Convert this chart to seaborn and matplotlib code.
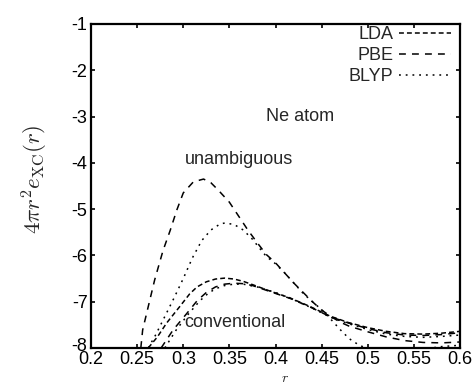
import numpy as np
import pandas as pd
import matplotlib
matplotlib.use("Agg")
import matplotlib.pyplot as plt
import matplotlib.transforms as mtransforms
from matplotlib.lines import Line2D
import seaborn as sns

# data
lda_x = [0.262, 0.272, 0.282, 0.296, 0.307, 0.315, 0.325, 0.335, 0.345, 0.355, 0.365, 0.375,
         0.394, 0.416, 0.437, 0.459, 0.479, 0.50, 0.52, 0.54, 0.56, 0.58, 0.60]
lda_y = [-8.0, -7.76, -7.46, -7.11, -6.83, -6.68, -6.57, -6.51, -6.49, -6.51, -6.56, -6.63,
         -6.77, -6.92, -7.10, -7.31, -7.45, -7.56, -7.64, -7.69, -7.70, -7.68, -7.64]

pbe_conv_x = [0.276, 0.289, 0.304, 0.315, 0.325, 0.335, 0.345, 0.355, 0.365, 0.375, 0.394,
              0.416, 0.437, 0.459, 0.479, 0.50, 0.52, 0.54, 0.56, 0.58, 0.60]
pbe_conv_y = [-8.0, -7.61, -7.25, -6.98, -6.80, -6.68, -6.62, -6.60, -6.61, -6.65, -6.78,
              -6.93, -7.11, -7.32, -7.46, -7.58, -7.67, -7.72, -7.73, -7.71, -7.67]

blyp_conv_x = [0.280, 0.292, 0.305, 0.318, 0.327, 0.335, 0.345, 0.355, 0.365, 0.380, 0.40,
               0.42, 0.44, 0.46, 0.48, 0.50, 0.52, 0.54, 0.56, 0.58, 0.60]
blyp_conv_y = [-8.0, -7.62, -7.28, -6.98, -6.82, -6.72, -6.65, -6.62, -6.62, -6.68, -6.80,
               -6.96, -7.14, -7.34, -7.48, -7.60, -7.70, -7.75, -7.77, -7.75, -7.72]

pbe_unamb_x = [0.254, 0.256, 0.262, 0.269, 0.278, 0.286, 0.293, 0.300, 0.311, 0.322, 0.330,
               0.338, 0.35, 0.36, 0.37, 0.38, 0.39, 0.40, 0.41, 0.42, 0.43, 0.44, 0.45,
               0.46, 0.47, 0.48, 0.50, 0.52, 0.54, 0.56, 0.58, 0.60]
pbe_unamb_y = [-8.0, -7.61, -7.11, -6.53, -5.90, -5.45, -5.02, -4.65, -4.41, -4.35, -4.43,
               -4.59, -4.85, -5.15, -5.45, -5.72, -5.98, -6.16, -6.38, -6.60, -6.80, -7.00,
               -7.18, -7.32, -7.44, -7.53, -7.65, -7.76, -7.84, -7.88, -7.89, -7.87]

blyp_unamb_x = [0.262, 0.27, 0.28, 0.29, 0.30, 0.31, 0.32, 0.33, 0.34, 0.345, 0.355, 0.365,
                0.375, 0.385, 0.39, 0.40, 0.41, 0.42, 0.43, 0.44, 0.45, 0.46, 0.47, 0.48,
                0.49, 0.50, 0.52, 0.55, 0.58, 0.60]
blyp_unamb_y = [-8.0, -7.72, -7.32, -6.92, -6.50, -6.05, -5.68, -5.45, -5.32, -5.30, -5.33,
                -5.45, -5.65, -5.90, -6.02, -6.18, -6.38, -6.60, -6.82, -7.00, -7.17, -7.38,
                -7.60, -7.80, -7.93, -8.02, -8.08, -8.05, -7.97, -7.94]

x_ticks = [0.2, 0.25, 0.3, 0.35, 0.4, 0.45, 0.5, 0.55, 0.6]
x_tick_labels = ["0.2", "0.25", "0.3", "0.35", "0.4", "0.45", "0.5", "0.55", "0.6"]
y_ticks = [-8, -7, -6, -5, -4, -3, -2, -1]

sns.set_style("ticks")
plt.rcParams["font.family"] = ["Liberation Sans", "DejaVu Sans"]
plt.rcParams["mathtext.fontset"] = "cm"
plt.rcParams["axes.unicode_minus"] = False

# dash styles
lda_dash = (3.2, 2.0)
pbe_dash = (4.5, 4.0)
blyp_dash = (1.2, 3.2)

curves = [
    (lda_x, lda_y, lda_dash),
    (pbe_conv_x, pbe_conv_y, pbe_dash),
    (blyp_conv_x, blyp_conv_y, blyp_dash),
    (pbe_unamb_x, pbe_unamb_y, pbe_dash),
    (blyp_unamb_x, blyp_unamb_y, blyp_dash),
]

fig = plt.figure(figsize=(4.75, 3.84), dpi=100)
ax = fig.add_axes([91 / 475, 1 - 348 / 384, 369 / 475, 324 / 384])

for xs, ys, dash in curves:
    df = pd.DataFrame({"r": xs, "e": ys})
    sns.lineplot(data=df, x="r", y="e", ax=ax, color="black", lw=1.1,
                 sort=False, estimator=None)
    ax.lines[-1].set_dashes(dash)

ax.set_xlim(0.2, 0.6)
ax.set_ylim(-8, -1)
ax.set_xticks(x_ticks)
ax.set_xticklabels(x_tick_labels)
ax.set_yticks(y_ticks)
ax.set_yticklabels([str(v) for v in y_ticks])
ax.tick_params(direction="in", length=3, width=1.2, labelsize=13,
               top=True, right=True, pad=2.5, colors="black")
for s in ax.spines.values():
    s.set_linewidth(1.6)
    s.set_color("black")

# nudge the bottom y label up a little so it does not run into "0.2"
lab8 = ax.get_yticklabels()[0]
lab8.set_transform(lab8.get_transform() +
                   mtransforms.ScaledTranslation(0, 0.035, fig.dpi_scale_trans))

ax.set_ylabel(r"$4\pi r^2 e_{\rm XC}(r)$", fontsize=16.5)
ax.yaxis.set_label_coords(-0.112, 0.52)
ax.set_xlabel(r"$r$", fontsize=10)
ax.xaxis.set_label_coords(0.526, -0.072)
ax.xaxis.label.set_va("top")

ax.text(0.427, -3.0, "Ne atom", fontsize=13, ha="center", va="center")
ax.text(0.360, -3.93, "unambiguous", fontsize=13, ha="center", va="center")
ax.text(0.356, -7.44, "conventional", fontsize=13, ha="center", va="center")

handles = [
    Line2D([], [], color="black", lw=1.1, dashes=lda_dash),
    Line2D([], [], color="black", lw=1.1, dashes=pbe_dash),
    Line2D([], [], color="black", lw=1.1, dashes=blyp_dash),
]
ax.legend(handles, ["LDA", "PBE", "BLYP"], loc="upper right", frameon=False,
          markerfirst=False, handlelength=2.9, handletextpad=0.3,
          labelspacing=0.22, fontsize=13, borderaxespad=0.0,
          bbox_to_anchor=(0.996, 1.015))

fig.savefig("out.png", dpi=100)
